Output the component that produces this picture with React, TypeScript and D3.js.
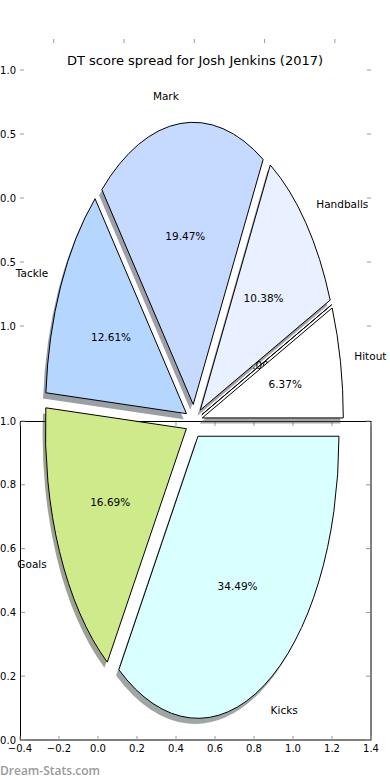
import React from "react";
import * as d3 from "d3";

const categories = ["Hitout", "", "Handballs", "Mark", "Tackle", "Goals", "Kicks"];
const shares = [6.37, 0, 10.38, 19.47, 12.61, 16.69, 34.49];
const colors = ["#ffffff", "#f2f2f2", "#e9f0ff", "#c6d9ff", "#b4d6ff", "#cfea8b", "#d9ffff"];
const pctLabels = shares.map((v) => v.toFixed(2) + "%");
const lowerXTicks = [-0.4, -0.2, 0, 0.2, 0.4, 0.6, 0.8, 1.0, 1.2, 1.4];
const lowerYTicks = [0, 0.2, 0.4, 0.6, 0.8, 1.0];
const upperXTicks = [-1, -0.5, 0, 0.5, 1];
const upperYTicks = [1, 0.5, 0, -0.5, -1];
const title = "DT score spread for Josh Jenkins (2017)";
const watermark = "Dream-Stats.com";

const fmt = (v: number) => {
  const s = Math.abs(v).toFixed(1);
  return v < 0 ? "\u2212" + s : s;
};

function shade(c: string) {
  const col = d3.rgb(c);
  return d3.rgb(col.r * 0.3, col.g * 0.3, col.b * 0.3).formatHex();
}

export default function App() {
  const W = 390, H = 780;
  const cx = 194, cy = 421.3, rx = 141, ry = 282, explode = 0.06;
  const shadowDx = -0.02 * rx, shadowDy = 0.02 * ry;

  const lx = d3.scaleLinear().domain([-0.4, 1.4]).range([20, 371]);
  const ly = d3.scaleLinear().domain([0, 1]).range([740, 421]);
  const ux = d3.scaleLinear().domain([-1, 1]).range([53.7, 334.9]);
  const uy = d3.scaleLinear().domain([-1, 1]).range([326, 70]);
  const upTop = 39, upLeft = 20, upRight = 371;

  const pie = d3
    .pie<number>()
    .sort(null)
    .value((d) => d)
    .startAngle(Math.PI / 2)
    .endAngle(Math.PI / 2 - 2 * Math.PI);
  const arcs = pie(shares);
  const arcGen = d3.arc<any>().innerRadius(0).outerRadius(1);

  const slices = arcs.map((a, i) => {
    const m = (a.startAngle + a.endAngle) / 2;
    const ux_ = Math.sin(m), uy_ = -Math.cos(m);
    const ox = cx + explode * rx * ux_;
    const oy = cy + explode * ry * uy_;
    return {
      i,
      path: arcGen(a) as string,
      ox,
      oy,
      ux: ux_,
      uy: uy_,
    };
  });

  const tickStroke = "#999";

  return (
    <svg
      width={W}
      height={H}
      style={{ position: "absolute", left: 0, top: 0, fontFamily: "DejaVu Sans, sans-serif" }}
    >
      <rect x={0} y={0} width={W} height={H} fill="#fff" />

      {/* upper (mostly hidden) axes: ticks and labels */}
      <g>
        {upperXTicks.map((t) => (
          <line key={"ux" + t} x1={ux(t)} x2={ux(t)} y1={upTop} y2={upTop + 4} stroke={tickStroke} />
        ))}
        {upperYTicks.map((t) => (
          <g key={"uy" + t}>
            <line x1={upLeft} x2={upLeft + 4} y1={uy(t)} y2={uy(t)} stroke={tickStroke} />
            <line x1={upRight - 4} x2={upRight} y1={uy(t)} y2={uy(t)} stroke={tickStroke} />
            <text x={16} y={uy(t)} fontSize={10} textAnchor="end" dominantBaseline="central" fill="#000">
              {fmt(t)}
            </text>
          </g>
        ))}
        <text x={195} y={65} fontSize={13} textAnchor="middle" fill="#000">
          {title}
        </text>
      </g>

      {/* lower axes */}
      <g>
        <rect x={20.5} y={421.5} width={350.5} height={318.5} fill="#fff" stroke="#000" strokeWidth={1} />
        {lowerXTicks.map((t) => (
          <g key={"lx" + t}>
            <line x1={lx(t)} x2={lx(t)} y1={740} y2={736} stroke={tickStroke} />
            <line x1={lx(t)} x2={lx(t)} y1={422} y2={426} stroke={tickStroke} />
            <text x={lx(t)} y={752} fontSize={10} textAnchor="middle" fill="#000">
              {fmt(t)}
            </text>
          </g>
        ))}
        {lowerYTicks.map((t) => (
          <g key={"ly" + t}>
            <line x1={21} x2={25} y1={ly(t)} y2={ly(t)} stroke={tickStroke} />
            <line x1={366} x2={370} y1={ly(t)} y2={ly(t)} stroke={tickStroke} />
            <text x={16} y={ly(t)} fontSize={10} textAnchor="end" dominantBaseline="central" fill="#000">
              {fmt(t)}
            </text>
          </g>
        ))}
      </g>

      {/* pie shadows */}
      <g>
        {slices.map((s) => (
          <path
            key={"sh" + s.i}
            d={s.path}
            transform={`translate(${s.ox + shadowDx},${s.oy + shadowDy}) scale(${rx},${ry})`}
            fill={shade(colors[s.i])}
            fillOpacity={0.5}
            stroke="none"
          />
        ))}
      </g>

      {/* zero-share percentage, mostly covered by neighbouring wedges */}
      {slices
        .filter((s) => shares[s.i] === 0)
        .map((s) => (
          <text
            key={"zp" + s.i}
            x={s.ox + 0.45 * rx * s.ux}
            y={s.oy + 0.45 * ry * s.uy}
            dx={2}
            fontSize={10.5}
            textAnchor="middle"
            dominantBaseline="central"
            fill="#000"
          >
            {pctLabels[s.i]}
          </text>
        ))}

      {/* wedges */}
      <g>
        {slices.map((s) => (
          <path
            key={"w" + s.i}
            d={s.path}
            transform={`translate(${s.ox},${s.oy}) scale(${rx},${ry})`}
            fill={colors[s.i]}
            stroke="#000"
            strokeWidth={1}
            vectorEffect="non-scaling-stroke"
            strokeLinejoin="miter"
          />
        ))}
      </g>

      {/* labels */}
      <g fontSize={10.5} fill="#000">
        {slices.map((s) =>
          categories[s.i] ? (
            <text
              key={"l" + s.i}
              x={s.ox + 1.1 * rx * s.ux}
              y={s.oy + 1.1 * ry * s.uy}
              textAnchor={s.ux >= 0 ? "start" : "end"}
              dominantBaseline="central"
            >
              {categories[s.i]}
            </text>
          ) : null
        )}
        {slices
          .filter((s) => shares[s.i] > 0)
          .map((s) => (
            <text
              key={"p" + s.i}
              x={s.ox + 0.6 * rx * s.ux}
              y={s.oy + 0.6 * ry * s.uy}
              textAnchor="middle"
              dominantBaseline="central"
            >
              {pctLabels[s.i]}
            </text>
          ))}
      </g>

      <text x={0} y={775} fontSize={12} fontWeight={600} fill="#9a9a9a" style={{ fontFamily: "'Open Sans', sans-serif" }}>
        {watermark}
      </text>
    </svg>
  );
}
